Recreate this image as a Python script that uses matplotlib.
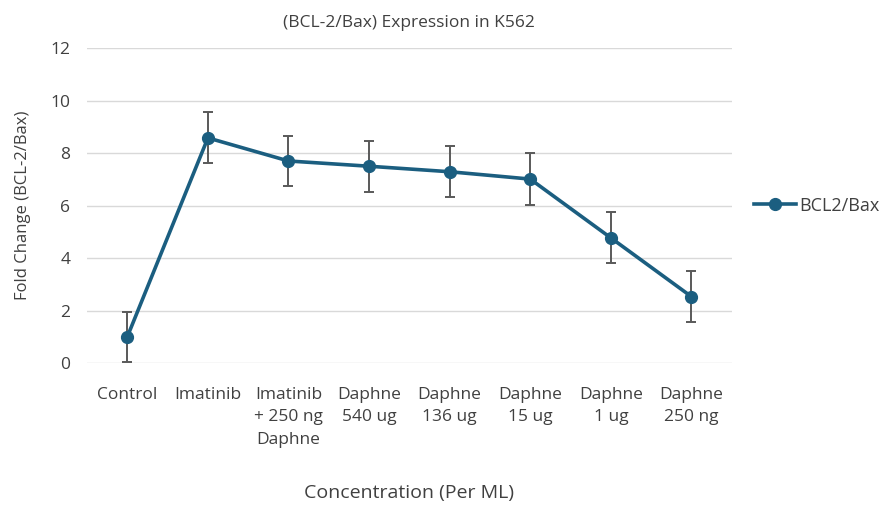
import matplotlib
matplotlib.use("Agg")
import matplotlib.pyplot as plt

categories = ["Control", "Imatinib", "Imatinib\n+ 250 ng\nDaphne", "Daphne\n540 ug",
              "Daphne\n136 ug", "Daphne\n15 ug", "Daphne\n1 ug", "Daphne\n250 ng"]
values = [1.0, 8.58, 7.70, 7.50, 7.29, 7.01, 4.77, 2.53]
errors = [0.96, 0.97, 0.97, 0.97, 0.97, 0.98, 0.97, 0.97]
yticks = [0, 2, 4, 6, 8, 10, 12]

plt.rcParams['font.family'] = ['Open Sans', 'DejaVu Sans']
text_color = '#404040'

fig = plt.figure(figsize=(8.88, 5.07), dpi=100)
ax = fig.add_axes([0.098, 0.284, 0.726, 0.621])

x = list(range(len(categories)))
ax.errorbar(x, values, yerr=errors, fmt='none', ecolor='#595959', elinewidth=1.4,
            capsize=3.5, capthick=1.4, zorder=2)
ax.plot(x, values, color='#1B5E80', linewidth=2.6, marker='o', markersize=8.5,
        label='BCL2/Bax', zorder=3)

ax.set_xlim(-0.5, len(categories) - 0.5)
ax.set_ylim(0, 12)
ax.set_yticks(yticks)
ax.set_xticks(x)
ax.set_xticklabels(categories, fontsize=12.5, color=text_color, linespacing=1.55, va='top')
ax.tick_params(axis='y', labelsize=12.5, labelcolor=text_color, length=0, pad=12)
ax.tick_params(axis='x', length=0, pad=17)
ax.grid(axis='y', color='#D9D9D9', linewidth=1)
ax.set_axisbelow(True)
for s in ax.spines.values():
    s.set_visible(False)

ax.set_title('(BCL-2/Bax) Expression in K562', fontsize=12.5, color=text_color, pad=15)
ax.set_xlabel('Concentration (Per ML)', fontsize=14, color=text_color, labelpad=26)
ax.set_ylabel('Fold Change (BCL-2/Bax)', fontsize=12, color=text_color, labelpad=14)

leg = ax.legend(loc='center left', bbox_to_anchor=(1.01, 0.5), frameon=False,
                fontsize=13, handlelength=2.3, handletextpad=0.2)
for t in leg.get_texts():
    t.set_color(text_color)

fig.savefig('out.png', dpi=100)
